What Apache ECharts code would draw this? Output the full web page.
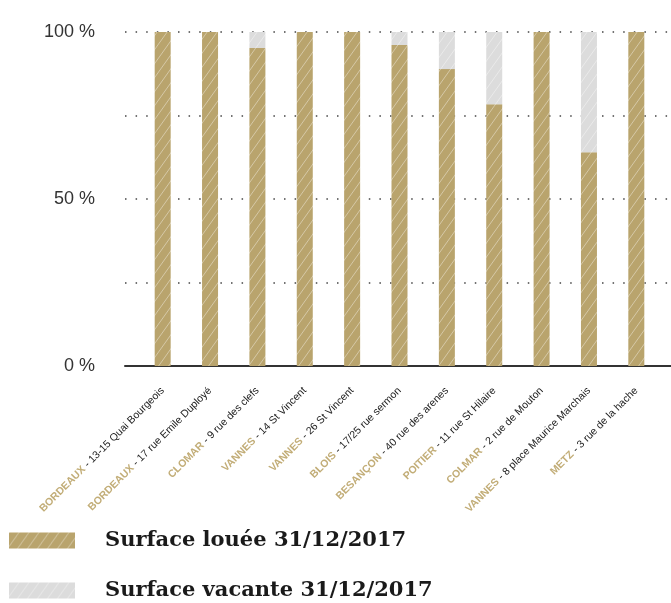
<!DOCTYPE html>
<html>
<head>
<meta charset="utf-8">
<script src="https://cdn.jsdelivr.net/npm/echarts@6/dist/echarts.min.js"></script>
<style>html,body{margin:0;padding:0;background:#fff;}#c{width:671px;height:603px;}</style>
</head>
<body>
<div id="c"></div>
<script>
const cityNames = ['BORDEAUX','BORDEAUX','CLOMAR','VANNES','VANNES','BLOIS','BESANÇON','POITIER','COLMAR','VANNES','METZ'];
const addresses = ['13-15 Quai Bourgeois','17 rue Emile Duployé','9 rue des clefs','14 St Vincent','26 St Vincent','17/25 rue sermon','40 rue des arenes','11 rue St Hilaire','2 rue de Mouton','8 place Maurice Marchais','3 rue de la hache'];
const rented = [100, 100, 95.2, 100, 100, 96.1, 88.9, 78.4, 100, 64.0, 100];
const vacant = [0, 0, 4.8, 0, 0, 3.9, 11.1, 21.6, 0, 36.0, 0];
const yTickLabels = {0: '0 %', 50: '50 %', 100: '100 %'};
const seriesNames = ['Surface louée 31/12/2017', 'Surface vacante 31/12/2017'];

function hatch(base) {
  const w = 10, h = 14;
  const c = document.createElement('canvas');
  c.width = w; c.height = h;
  const g = c.getContext('2d');
  g.fillStyle = base; g.fillRect(0, 0, w, h);
  g.strokeStyle = 'rgba(255,255,255,0.4)';
  g.lineWidth = 1;
  g.beginPath();
  g.moveTo(-w, 2*h); g.lineTo(2*w, -h);
  g.moveTo(-2*w, 2*h); g.lineTo(w, -h);
  g.moveTo(0, 2*h); g.lineTo(3*w, -h);
  g.stroke();
  return {image: c, repeat: 'repeat'};
}
const gold = hatch('#b9a46d');
const grey = hatch('#dcdcdc');

const categories = cityNames.map((c, i) => c + '|' + addresses[i]);
const chart = echarts.init(document.getElementById('c'));
const sans = '"Liberation Sans", Arial, sans-serif';
const legendText = {fontFamily: '"DejaVu Serif", serif', fontWeight: 'bold', fontSize: 21, color: '#1a1a1a', padding: [0,0,0,25]};
chart.setOption({
  animation: false,
  grid: [
    {left: 125, right: 0, top: 32, bottom: 237},
    {left: 139, right: 11, top: 32, bottom: 237}
  ],
  xAxis: [
    {type: 'category', gridIndex: 0, data: categories, axisTick: {show: false},
     axisLabel: {show: false}, axisLine: {lineStyle: {color: '#333', width: 2}}},
    {type: 'category', gridIndex: 1, data: categories, axisTick: {show: false},
     axisLine: {show: false},
     axisLabel: {
       rotate: 45, margin: 23, interval: 0,
       formatter: v => { const p = v.split('|'); return '{a|' + p[0] + '}{b| - ' + p[1] + '}'; },
       rich: {
         a: {fontFamily: sans, fontWeight: 'bold', fontSize: 10.5, color: '#c2ad77'},
         b: {fontFamily: sans, fontSize: 10.5, color: '#222'}
       }
     }}
  ],
  yAxis: [
    {type: 'value', gridIndex: 0, min: 0, max: 100, interval: 25,
     axisLine: {show: false}, axisTick: {show: false},
     splitLine: {show: true, lineStyle: {color: '#444', width: 1.5, type: [1.5, 9.1]}},
     axisLabel: {margin: 30, fontFamily: sans, fontSize: 18, color: '#333',
       formatter: v => yTickLabels[v] || ''}},
    {type: 'value', gridIndex: 1, min: 0, max: 100, show: false}
  ],
  legend: [
    {left: 9, top: 530, orient: 'vertical', icon: 'rect', data: [seriesNames[0]], itemWidth: 66, itemHeight: 16,
     padding: 0, textStyle: legendText},
    {left: 9, top: 580, orient: 'vertical', icon: 'rect', data: [seriesNames[1]], itemWidth: 66, itemHeight: 16,
     padding: 0, textStyle: legendText}
  ],
  series: [
    {name: seriesNames[0], type: 'bar', stack: 's', xAxisIndex: 1, yAxisIndex: 1, barWidth: 16,
     data: rented, itemStyle: {color: gold}},
    {name: seriesNames[1], type: 'bar', stack: 's', xAxisIndex: 1, yAxisIndex: 1, barWidth: 16,
     data: vacant, itemStyle: {color: grey}}
  ]
});
</script>
</body>
</html>
